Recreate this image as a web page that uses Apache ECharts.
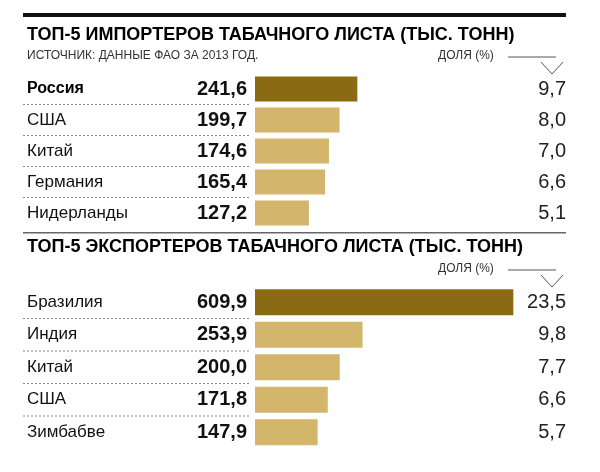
<!DOCTYPE html><html><head><meta charset="utf-8"><script src="https://cdn.jsdelivr.net/npm/echarts@6/dist/echarts.min.js"></script>
<style>body{margin:0;background:#fff}#c{width:600px;height:472px}</style></head><body><div id="c"></div><script>
const impCountries=['Россия','США','Китай','Германия','Нидерланды'];
const impValues=[241.6,199.7,174.6,165.4,127.2];
const impShares=[9.7,8.0,7.0,6.6,5.1];
const expCountries=['Бразилия','Индия','Китай','США','Зимбабве'];
const expValues=[609.9,253.9,200.0,171.8,147.9];
const expShares=[23.5,9.8,7.7,6.6,5.7];
const DARK='#8a6a12', LIGHT='#d3b66b';
const fmt=v=>v.toFixed(1).replace('.',',');
const F='Liberation Sans';
const grids=[{left:255,right:32,top:73.5,height:155},{left:255,right:32,top:286,height:162.5}];
const xAxes=[],yAxes=[],series=[];
[[impCountries,impValues,impShares,0],[expCountries,expValues,expShares,1]].forEach(([cats,vals,sh,g])=>{
  xAxes.push({gridIndex:g,type:'value',min:0,max:739,show:false});
  const base={gridIndex:g,type:'category',data:cats,inverse:true,axisTick:{show:false},axisLine:{show:false},splitLine:{show:false}};
  yAxes.push(Object.assign({},base,{position:'left',axisLabel:{align:'left',margin:228,fontFamily:F,fontSize:17,color:'#111',
    formatter:(v,i)=>(g===0&&i===0)?'{b|'+v+'}':v,rich:{b:{fontWeight:'bold',fontSize:16,fontFamily:F,color:'#000'}}}}));
  yAxes.push(Object.assign({},base,{position:'left',axisLabel:{align:'right',margin:8,fontFamily:F,fontSize:20,fontWeight:'bold',color:'#111',formatter:(v,i)=>fmt(vals[i])}}));
  yAxes.push(Object.assign({},base,{position:'right',axisLabel:{inside:true,margin:2,fontFamily:F,fontSize:20,color:'#222',formatter:(v,i)=>fmt(sh[i])}}));
  series.push({type:'bar',xAxisIndex:g,yAxisIndex:g*3,barWidth:g?26:25,silent:true,
    data:vals.map((v,i)=>({value:v,itemStyle:{color:i===0?DARK:LIGHT}}))});
});
const gr=[];
gr.push({type:'rect',shape:{x:23,y:13,width:543,height:4},style:{fill:'#111'}});
gr.push({type:'rect',shape:{x:23,y:232,width:543,height:1.5},style:{fill:'#666'}});
gr.push({type:'text',left:27,top:26,style:{text:'ТОП-5 ИМПОРТЕРОВ ТАБАЧНОГО ЛИСТА (ТЫС. ТОНН)',font:'bold 18px "Liberation Sans"',fill:'#000'}});
gr.push({type:'text',left:27,top:238,style:{text:'ТОП-5 ЭКСПОРТЕРОВ ТАБАЧНОГО ЛИСТА (ТЫС. ТОНН)',font:'bold 18px "Liberation Sans"',fill:'#000'}});
gr.push({type:'text',left:27,top:50,style:{text:'ИСТОЧНИК: ДАННЫЕ ФАО ЗА 2013 ГОД.',font:'12px "Liberation Sans"',fill:'#333'}});
[[50,57],[263,270]].forEach(([t,ly])=>{
  gr.push({type:'text',left:438,top:t,style:{text:'ДОЛЯ (%)',font:'12px "Liberation Sans"',fill:'#333'}});
  gr.push({type:'polyline',shape:{points:[[508,ly],[556,ly]]},style:{stroke:'#555',lineWidth:1}});
  gr.push({type:'polyline',shape:{points:[[541,ly+5],[552,ly+17],[563,ly+5]]},style:{stroke:'#555',lineWidth:1,fill:null}});
});
grids.forEach((g,gi)=>{const step=g.height/5;for(let i=1;i<5;i++){const y=g.top+step*i;
  gr.push({type:'line',shape:{x1:23,y1:y,x2:250,y2:y},style:{stroke:'#888',lineWidth:1,lineDash:[2,2]}});}});
const ch=echarts.init(document.getElementById('c'));
ch.setOption({animation:false,grid:grids,xAxis:xAxes,yAxis:yAxes,series:series,graphic:gr});
</script></body></html>
